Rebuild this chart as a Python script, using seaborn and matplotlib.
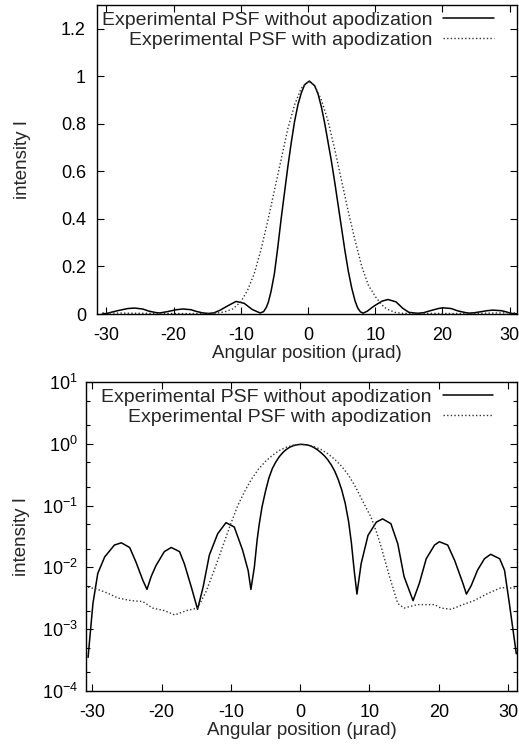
import numpy as np
import pandas as pd
import matplotlib
matplotlib.use("Agg")
import matplotlib.pyplot as plt
import seaborn as sns
from matplotlib.ticker import LogLocator, NullFormatter, FixedLocator

# ---- data ----
x_without = [-30.6, -29.9, -29.2, -28.2, -26.8, -25.8, -24.6, -23.7, -22.7, -22.1,
             -21.5, -20.8, -19.6, -18.6, -17.4, -16.7, -15.7, -14.8, -14.0, -13.1,
             -11.9, -10.7, -9.5, -8.3, -7.5, -7.1, -6.6, -6.2, -5.9, -5.5,
             -5.0, -4.5, -4.0, -3.5, -3.0, -2.5, -2.0, -1.5, -1.0, -0.5,
             0.2, 1.0, 1.5, 2.0, 2.5, 3.0, 3.5, 4.0, 4.5, 5.0,
             5.5, 6.0, 6.5, 7.0, 7.4, 7.8, 8.2, 8.8, 9.8, 11.0,
             11.9, 13.1, 14.1, 15.0, 16.3, 17.2, 18.2, 19.4, 20.1, 21.3,
             22.3, 23.5, 24.0, 24.7, 25.6, 26.6, 27.5, 28.8, 29.5, 30.2, 31.2]
i_without = [3.5e-4, 2.6e-3, 8e-3, 0.0148, 0.023, 0.025, 0.021, 0.0123, 0.0062, 0.0044,
             0.0071, 0.0107, 0.018, 0.021, 0.018, 0.0114, 0.0048, 0.0021, 0.0048, 0.0158,
             0.035, 0.053, 0.045, 0.019, 0.0089, 0.0044, 0.0102, 0.028, 0.050, 0.095,
             0.17, 0.28, 0.40, 0.51, 0.62, 0.72, 0.81, 0.88, 0.93, 0.965,
             0.98, 0.96, 0.925, 0.87, 0.80, 0.72, 0.64, 0.55, 0.455, 0.36,
             0.265, 0.18, 0.11, 0.055, 0.025, 0.009, 0.0037, 0.0114, 0.033, 0.054,
             0.061, 0.051, 0.024, 0.0071, 0.0029, 0.0055, 0.0138, 0.023, 0.026, 0.023,
             0.013, 0.0055, 0.0037, 0.0051, 0.009, 0.0138, 0.0163, 0.0138, 0.009, 0.0026, 4e-4]

x_with = [-30.6, -29.2, -27.7, -26.3, -24.4, -22.7, -21.3, -19.6, -18.1, -16.4,
          -14.8, -13.6, -12.4, -11.2, -10.0, -9.0, -8.0, -7.0, -6.0, -5.0,
          -4.0, -3.0, -2.0, -1.0, 0.1, 1.0, 2.0, 3.0, 4.0, 5.0,
          6.0, 7.0, 8.0, 9.0, 10.2, 11.0, 11.7, 12.9, 14.1, 15.0,
          16.9, 19.4, 20.3, 21.8, 23.5, 25.1, 27.1, 29.0, 31.4]
i_with = [0.0048, 0.0044, 0.0038, 0.0032, 0.0029, 0.0028, 0.0022, 0.0020, 0.0017, 0.0020,
          0.0022, 0.0040, 0.0090, 0.0214, 0.051, 0.10, 0.17, 0.27, 0.39, 0.52,
          0.65, 0.78, 0.88, 0.95, 0.98, 0.96, 0.90, 0.81, 0.69, 0.56,
          0.43, 0.31, 0.20, 0.12, 0.066, 0.038, 0.0214, 0.0071, 0.0026, 0.0022,
          0.0025, 0.0025, 0.0022, 0.0021, 0.0025, 0.0029, 0.0038, 0.0047, 0.0046]

label_without = "Experimental PSF without apodization"
label_with = "Experimental PSF with apodization"
x_ticks = [-30, -20, -10, 0, 10, 20, 30]
lin_ticks = [0, 0.2, 0.4, 0.6, 0.8, 1.0, 1.2]
lin_ticklabels = ["0", "0.2", "0.4", "0.6", "0.8", "1", "1.2"]
x_label = "Angular position (\u03bcrad)"
y_label = "intensity I"

df = pd.concat([
    pd.DataFrame({"x": x_without, "I": i_without, "series": label_without}),
    pd.DataFrame({"x": x_with, "I": i_with, "series": label_with}),
], ignore_index=True)

sns.set_theme(style="ticks")
plt.rcParams["font.family"] = ["Liberation Sans", "DejaVu Sans"]
plt.rcParams["mathtext.fontset"] = "custom"
plt.rcParams["mathtext.rm"] = "Liberation Sans"
plt.rcParams["mathtext.it"] = "Liberation Sans:italic"
FS_TICK = 13
FS_LABEL = 13.5
FS_LEG = 14

fig = plt.figure(figsize=(5.19, 7.44), dpi=100)
ax1 = fig.add_axes([97/519, 1-314/744, 420/519, 309/744])
ax2 = fig.add_axes([86/519, 1-691/744, 431/519, 309/744])

styles = {label_without: dict(color="black", lw=1.1, ls="-"),
          label_with: dict(color="#333333", lw=1.0, ls=(0, (1, 1.6)))}

for ax in (ax1, ax2):
    for name in (label_without, label_with):
        sub = df[df.series == name]
        sns.lineplot(data=sub, x="x", y="I", ax=ax, sort=False, estimator=None,
                     label=name, **styles[name])
    for s in ax.spines.values():
        s.set_linewidth(1.0)
        s.set_color("black")
    ax.tick_params(which="both", direction="in", top=True, right=True,
                   labelsize=FS_TICK, colors="black")
    ax.tick_params(which="major", length=5, width=0.8)
    ax.tick_params(which="minor", length=3, width=0.8)
    ax.set_xticks(x_ticks)
    ax.set_xticklabels([str(v) for v in x_ticks])
    ax.set_xlabel(x_label, fontsize=FS_LABEL, labelpad=0.5)
    ax.set_ylabel(y_label, fontsize=FS_LABEL)
    ax.legend(loc="upper right", bbox_to_anchor=(0.945, 0.979),
              markerfirst=False, frameon=False,
              fontsize=FS_LEG, handlelength=2.6, handletextpad=0.57,
              labelspacing=0.12, borderaxespad=0.0, borderpad=0.0)

ax1.set_xlim(-31.4, 31.1)
ax1.set_ylim(0, 1.3)
ax1.yaxis.set_major_locator(FixedLocator(lin_ticks))
ax1.set_yticklabels(lin_ticklabels)
ax1.tick_params(axis="y", pad=8)
ax1.tick_params(axis="x", pad=9.5)
ax1.yaxis.set_label_coords(-0.157, 0.5)

ax2.set_yscale("log")
ax2.set_xlim(-30.9, 31.3)
ax2.set_ylim(1e-4, 10)
ax2.yaxis.set_major_locator(LogLocator(base=10, numticks=10))
ax2.yaxis.set_minor_locator(LogLocator(base=10, subs=(2.0, 5.0), numticks=20))
ax2.yaxis.set_minor_formatter(NullFormatter())
ax2.tick_params(axis="y", pad=6)
ax2.tick_params(axis="x", pad=9.5)
ax2.yaxis.set_label_coords(-0.131, 0.5)

fig.savefig("out.png", dpi=100)
